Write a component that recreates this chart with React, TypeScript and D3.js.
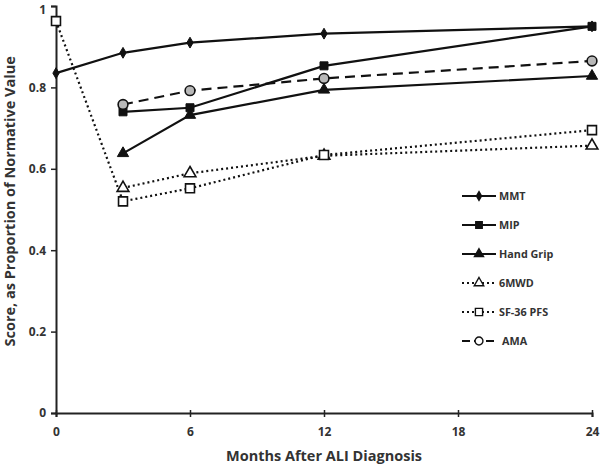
import React, { useEffect, useRef } from 'react';
import * as d3 from 'd3';

const months = [0, 3, 6, 12, 24];
const xTicks = [0, 6, 12, 18, 24];
const yTicks = [0, 0.2, 0.4, 0.6, 0.8, 1];

const seriesNames = ['MMT', 'MIP', 'Hand Grip', '6MWD', 'SF-36 PFS', 'AMA'];
const mmt = [0.835, 0.885, 0.91, 0.932, 0.95];
const mip = [null, 0.74, 0.75, 0.853, 0.95];
const handGrip = [null, 0.638, 0.732, 0.794, 0.828];
const sixMwd = [null, 0.553, 0.589, 0.632, 0.657];
const sf36 = [0.963, 0.52, 0.552, 0.634, 0.695];
const ama = [null, 0.758, 0.792, 0.822, 0.865];

type Style = { dash: string; marker: string; fill: string; size: number };

const styles: Style[] = [
  { dash: '', marker: 'diamond', fill: '#111', size: 34 },
  { dash: '', marker: 'square', fill: '#111', size: 64 },
  { dash: '', marker: 'triangle', fill: '#111', size: 55 },
  { dash: '2,3', marker: 'triangle', fill: '#fff', size: 60 },
  { dash: '2,3', marker: 'square', fill: '#fff', size: 80 },
  { dash: '10,6', marker: 'circle', fill: '#b8b8b8', size: 75 },
];

const symbolFor = (m: string) =>
  m === 'diamond'
    ? d3.symbolDiamond
    : m === 'square'
    ? d3.symbolSquare
    : m === 'triangle'
    ? d3.symbolTriangle
    : d3.symbolCircle;

export default function App() {
  const ref = useRef<SVGSVGElement>(null);

  useEffect(() => {
    const svg = d3.select(ref.current);
    svg.selectAll('*').remove();

    const margin = { top: 6, left: 56, right: 9, bottom: 56 };
    const width = 601;
    const height = 469;
    const font = "'Open Sans', sans-serif";

    const x = d3.scaleLinear().domain([0, 24]).range([margin.left, width - margin.right]);
    const y = d3.scaleLinear().domain([0, 1]).range([height - margin.bottom, margin.top]);

    const data = [mmt, mip, handGrip, sixMwd, sf36, ama];

    // axes
    const yAxis = svg
      .append('g')
      .attr('transform', `translate(${margin.left},0)`)
      .call(
        d3
          .axisLeft(y)
          .tickValues(yTicks)
          .tickFormat((d) => (d === 0 || d === 1 ? String(d) : d3.format('.1f')(d as number)))
          .tickSize(5)
          .tickPadding(5)
      );
    yAxis.select('.domain').attr('stroke', '#222').attr('stroke-width', 2);
    yAxis.selectAll('.tick line').attr('stroke', '#222').attr('stroke-width', 1.5);
    yAxis
      .selectAll('text')
      .attr('font-family', font)
      .attr('font-weight', 700)
      .attr('font-size', 12)
      .attr('fill', '#333')
      .attr('dy', (d) => ((d as number) === 1 ? '0.62em' : '0.32em'));

    const xAxis = svg
      .append('g')
      .attr('transform', `translate(0,${y(0)})`)
      .call(d3.axisBottom(x).tickValues(xTicks).tickFormat(d3.format('d')).tickSize(4).tickPadding(10));
    xAxis.select('.domain').attr('stroke', '#222').attr('stroke-width', 2);
    xAxis.selectAll('.tick line').attr('stroke', '#222').attr('stroke-width', 1.5).attr('y1', -3);
    xAxis
      .selectAll('text')
      .attr('font-family', font)
      .attr('font-weight', 700)
      .attr('font-size', 12)
      .attr('fill', '#333');

    svg
      .append('text')
      .attr('x', (margin.left + width - margin.right) / 2)
      .attr('y', 461)
      .attr('text-anchor', 'middle')
      .attr('font-family', font)
      .attr('font-weight', 700)
      .attr('font-size', 14.5)
      .attr('fill', '#333')
      .text('Months After ALI Diagnosis');

    svg
      .append('text')
      .attr('transform', `translate(15,${y(0.52)}) rotate(-90)`)
      .attr('text-anchor', 'middle')
      .attr('font-family', font)
      .attr('font-weight', 700)
      .attr('font-size', 14.5)
      .attr('fill', '#333')
      .text('Score, as Proportion of Normative Value');

    // lines
    data.forEach((vals, i) => {
      const pts = months
        .map((m, j) => ({ m, v: vals[j] }))
        .filter((p) => p.v !== null) as { m: number; v: number }[];
      const line = d3
        .line<{ m: number; v: number }>()
        .x((p) => x(p.m))
        .y((p) => y(p.v));
      svg
        .append('path')
        .datum(pts)
        .attr('d', line)
        .attr('fill', 'none')
        .attr('stroke', '#111')
        .attr('stroke-width', 2.2)
        .attr('stroke-dasharray', styles[i].dash);
    });

    // markers
    data.forEach((vals, i) => {
      const st = styles[i];
      const pts = months
        .map((m, j) => ({ m, v: vals[j] }))
        .filter((p) => p.v !== null) as { m: number; v: number }[];
      const sym = d3.symbol().type(symbolFor(st.marker)).size(st.size);
      svg
        .append('g')
        .selectAll('path')
        .data(pts)
        .enter()
        .append('path')
        .attr('d', sym)
        .attr('transform', (p) => `translate(${x(p.m)},${y(p.v)})`)
        .attr('fill', st.fill)
        .attr('stroke', '#111')
        .attr('stroke-width', st.fill === '#111' ? 1 : 1.6);
    });

    // legend
    const legend = svg.append('g').attr('transform', 'translate(462,196)');
    seriesNames.forEach((name, i) => {
      const st = styles[i];
      const g = legend.append('g').attr('transform', `translate(0,${i * 29})`);
      g.append('line')
        .attr('x1', 0)
        .attr('x2', 34)
        .attr('stroke', '#111')
        .attr('stroke-width', 2)
        .attr('stroke-dasharray', st.dash ? (st.dash === '10,6' ? '8,4' : '2,3') : '');
      g.append('path')
        .attr('d', d3.symbol().type(symbolFor(st.marker)).size(st.size * 0.65)())
        .attr('transform', 'translate(17,0)')
        .attr('fill', st.fill === '#b8b8b8' ? '#fff' : st.fill)
        .attr('stroke', '#111')
        .attr('stroke-width', 1.4);
      g.append('text')
        .attr('x', i === 5 ? 40 : 37)
        .attr('y', 4)
        .attr('font-family', font)
        .attr('font-weight', 700)
        .attr('font-size', 10.8)
        .attr('fill', '#333')
        .text(name);
    });
  }, []);

  return (
    <svg
      ref={ref}
      width={601}
      height={469}
      style={{ position: 'absolute', left: 0, top: 0, background: '#fff' }}
    />
  );
}
